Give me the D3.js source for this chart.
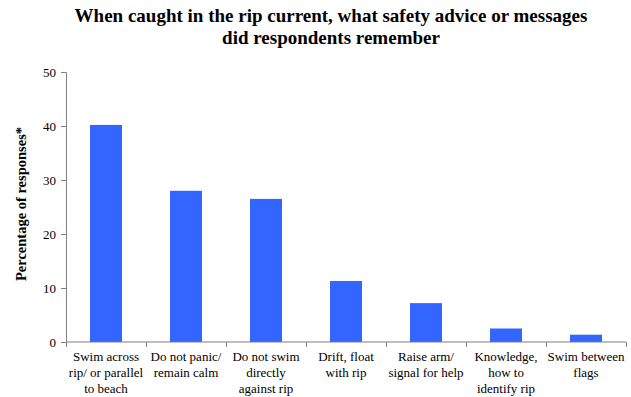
<!DOCTYPE html>
<html>
<head>
<meta charset="utf-8">
<script src="https://cdn.jsdelivr.net/npm/d3@7"></script>
<style>
  body { margin: 0; background: #fff; }
</style>
</head>
<body>
<div id="vis"></div>
<script>
const categories = [
  ["Swim across", "rip/ or parallel", "to beach"],
  ["Do not panic/", "remain calm"],
  ["Do not swim", "directly", "against rip"],
  ["Drift, float", "with rip"],
  ["Raise arm/", "signal for help"],
  ["Knowledge,", "how to", "identify rip"],
  ["Swim between", "flags"]
];
const values = [40.2, 28.0, 26.5, 11.3, 7.2, 2.5, 1.35];
const yTicks = [0, 10, 20, 30, 40, 50];
const titleLines = [
  "When caught in the rip current, what safety advice or messages",
  "did respondents remember"
];

const FONT = "'Liberation Serif', 'Times New Roman', 'DejaVu Serif', serif";
const W = 631, H = 397;
const margin = { top: 72, right: 5, bottom: 55, left: 66 };
const width = W - margin.left - margin.right;
const height = H - margin.top - margin.bottom;

const root = d3.select("#vis").append("svg")
  .attr("width", W)
  .attr("height", H)
  .style("font-family", FONT);

const svg = root.append("g")
  .attr("transform", `translate(${margin.left}, ${margin.top})`);

const ids = categories.map((c, i) => i);

const x = d3.scaleBand()
  .domain(ids)
  .range([0, width])
  .paddingInner(0.6)
  .paddingOuter(0.3);

const y = d3.scaleLinear()
  .domain([0, 50])
  .range([height, 0]);

svg.selectAll("rect.bar")
  .data(values)
  .join("rect")
  .attr("class", "bar")
  .attr("x", (d, i) => x(i))
  .attr("y", d => y(d))
  .attr("width", x.bandwidth())
  .attr("height", d => height - y(d))
  .attr("fill", "#3366FF");

// y axis
const yAxis = svg.append("g")
  .call(d3.axisLeft(y).tickValues(yTicks).tickSize(5).tickPadding(5))
  .attr("font-family", null);
yAxis.select(".domain").attr("stroke", "#808080");
yAxis.selectAll(".tick line").attr("stroke", "#808080");
yAxis.selectAll("text")
  .attr("font-size", "13px")
  .attr("fill", "#000")
  .style("font-family", FONT);

// x axis line + boundary ticks
svg.append("line")
  .attr("x1", 0).attr("x2", width)
  .attr("y1", height).attr("y2", height)
  .attr("stroke", "#808080");

d3.range(categories.length + 1).forEach(i => {
  const bx = Math.round(i * width / categories.length) + 0.5;
  svg.append("line")
    .attr("x1", bx).attr("x2", bx)
    .attr("y1", height).attr("y2", height + 5)
    .attr("stroke", "#808080");
});

// category labels
categories.forEach((lines, i) => {
  const t = svg.append("text")
    .attr("text-anchor", "middle")
    .attr("font-size", "13px")
    .style("font-family", FONT)
    .attr("fill", "#000");
  lines.forEach((ln, j) => {
    t.append("tspan")
      .attr("x", x(i) + x.bandwidth() / 2)
      .attr("y", height + 19 + j * 15.8)
      .text(ln);
  });
});

// y title
svg.append("text")
  .attr("transform", "rotate(-90)")
  .attr("x", -height / 2 + 3)
  .attr("y", -40)
  .attr("text-anchor", "middle")
  .attr("font-size", "14.5px")
  .attr("font-weight", "bold")
  .style("font-family", FONT)
  .text("Percentage of responses*");

// title
titleLines.forEach((ln, i) => {
  root.append("text")
    .attr("x", 331)
    .attr("y", 22 + i * 22)
    .attr("text-anchor", "middle")
    .attr("font-size", "19px")
    .attr("font-weight", "bold")
    .style("font-family", FONT)
    .text(ln);
});
</script>
</body>
</html>
